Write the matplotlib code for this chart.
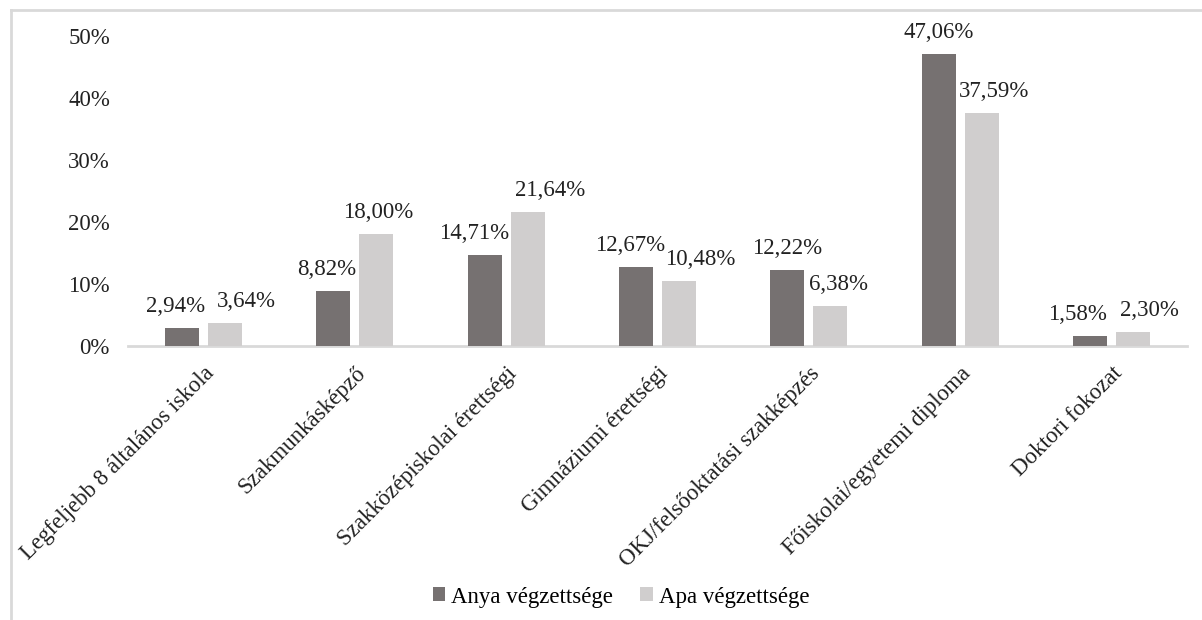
import matplotlib
matplotlib.use("Agg")
import matplotlib.pyplot as plt
from matplotlib.lines import Line2D
from matplotlib.patches import Patch
import numpy as np

categories = [
    "Legfeljebb 8 általános iskola",
    "Szakmunkásképző",
    "Szakközépiskolai érettségi",
    "Gimnáziumi érettségi",
    "OKJ/felsőoktatási szakképzés",
    "Főiskolai/egyetemi diploma",
    "Doktori fokozat",
]
anya = [2.94, 8.82, 14.71, 12.67, 12.22, 47.06, 1.58]
apa = [3.64, 18.00, 21.64, 10.48, 6.38, 37.59, 2.30]
series_names = ["Anya végzettsége", "Apa végzettsége"]
yticks = [0, 10, 20, 30, 40, 50]

DARK = "#767171"
LIGHT = "#d0cece"
GRID = "#d9d9d9"
TEXT = "#222222"

plt.rcParams["font.family"] = ["Liberation Serif", "DejaVu Serif"]
FS = 16.5

fig = plt.figure(figsize=(12.02, 6.2), dpi=100)
ax = fig.add_axes([128 / 1202, 1 - 346 / 620, (1187 - 128) / 1202, (346 - 36) / 620])

x = np.arange(len(categories))
w = 0.225
off = 0.142
b1 = ax.bar(x - off, anya, w, color=DARK, zorder=3)
b2 = ax.bar(x + off, apa, w, color=LIGHT, zorder=3)

def fmt(v):
    return f"{v:.2f}".replace(".", ",") + "%"

# horizontal nudges (points) so neighbouring value labels stay apart
nudge_dark = [-5, -5, -8, -4, 0, 0, -9]
nudge_light = [15, 1, 16, 15, 6, 9, 12]

for bars, vals, nudges in ((b1, anya, nudge_dark), (b2, apa, nudge_light)):
    for r, v, dx in zip(bars, vals, nudges):
        ax.annotate(fmt(v), (r.get_x() + r.get_width() / 2, v),
                    xytext=(dx, 8), textcoords="offset points",
                    ha="center", va="bottom", fontsize=FS, color=TEXT)

ax.set_xlim(-0.5, len(categories) - 0.5)
ax.set_ylim(0, 50)
ax.set_yticks(yticks)
ax.set_yticklabels([f"{t}%" for t in yticks], fontsize=FS, color=TEXT)
ax.tick_params(axis="y", length=0, pad=13)
ax.set_xticks(x)
ax.set_xticklabels(categories, rotation=45, ha="right", va="top",
                   rotation_mode="anchor", fontsize=FS, color=TEXT)
ax.tick_params(axis="x", length=0, pad=12)
for s in ("left", "right", "top"):
    ax.spines[s].set_visible(False)
ax.spines["bottom"].set_color(GRID)
ax.spines["bottom"].set_linewidth(2)

handles = [Patch(facecolor=DARK), Patch(facecolor=LIGHT)]
fig.legend(handles, series_names, loc="center", bbox_to_anchor=(621 / 1202, 1 - 597 / 620),
           ncol=2, frameon=False, fontsize=FS, handlelength=0.55, handleheight=0.55,
           handletextpad=0.25, columnspacing=1.2)

# outer frame (top and left edges)
fig.add_artist(Line2D([11 / 1202, 11 / 1202], [0, 1 - 10 / 620],
                      transform=fig.transFigure, color=GRID, lw=2))
fig.add_artist(Line2D([11 / 1202, 1], [1 - 10 / 620, 1 - 10 / 620],
                      transform=fig.transFigure, color=GRID, lw=2))

fig.savefig("out.png", dpi=100)
